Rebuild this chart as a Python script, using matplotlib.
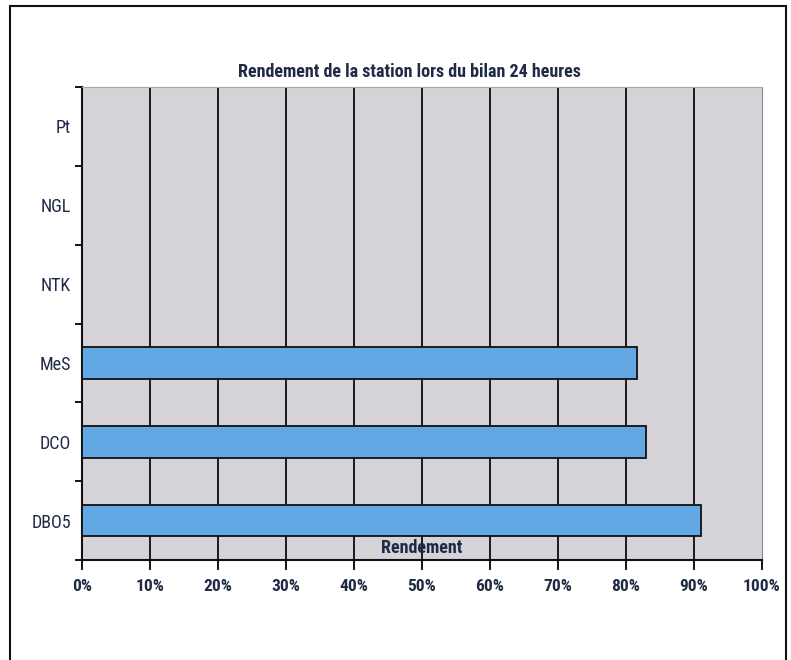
import numpy as np
import matplotlib
matplotlib.use("Agg")
import matplotlib.pyplot as plt
from matplotlib.patches import Rectangle

plt.rcParams['font.family'] = ['Roboto Condensed', 'Asap Condensed', 'Liberation Sans', 'DejaVu Sans']

# données (de bas en haut)
parametres = ['DBO5', 'DCO', 'MeS', 'NTK', 'NGL', 'Pt']
rendement = [91.0, 82.9, 81.6, np.nan, np.nan, np.nan]
x_ticks = [0, 10, 20, 30, 40, 50, 60, 70, 80, 90, 100]
x_labels = ['0%', '10%', '20%', '30%', '40%', '50%', '60%', '70%', '80%', '90%', '100%']

fig = plt.figure(figsize=(7.91, 6.60), dpi=100)
ax = fig.add_axes([82 / 791, 1 - 560 / 660, (762 - 82) / 791, (560 - 87) / 660])
ax.set_facecolor('#D6D3D8')

y = np.arange(len(parametres))
ax.barh(y, rendement, height=0.4, color='#62A8E5', edgecolor='#111111',
        linewidth=1.3, zorder=3)

ax.set_xlim(0, 100)
ax.set_ylim(-0.5, len(parametres) - 0.5)

# grille verticale
for v in x_ticks[1:-1]:
    ax.axvline(v, color='#1a1a1a', linewidth=1.4, zorder=2)

ax.set_xticks(x_ticks)
ax.set_xticklabels(x_labels, fontsize=12.5, fontweight='bold', color='#1F2A44')
ax.tick_params(axis='x', direction='out', length=7, width=1.3, pad=7)

# graduations y aux limites des catégories, étiquettes au centre
ax.set_yticks(np.arange(-0.5, len(parametres), 1.0))
ax.set_yticklabels([])
ax.tick_params(axis='y', which='major', direction='out', length=5, width=1.3)
ax.set_yticks(y, minor=True)
ax.set_yticklabels(parametres, minor=True, fontsize=13, color='#1F2A44')
ax.tick_params(axis='y', which='minor', length=0, pad=8)

for s in ['left', 'bottom']:
    ax.spines[s].set_color('#111111')
    ax.spines[s].set_linewidth(1.5)
ax.spines['right'].set_color('#8a8a8a')
ax.spines['top'].set_color('#a8a8a8')

ax.text(0.5, 0.025, 'Rendement', transform=ax.transAxes, ha='center', va='center',
        fontsize=13, fontweight='bold', color='#1F2A44', zorder=4)

fig.text(409 / 791, 1 - 72 / 660, 'Rendement de la station lors du bilan 24 heures',
         ha='center', va='center', fontsize=13, fontweight='bold', color='#1F2A44')

# cadre du graphique
fig.patches.append(Rectangle((10 / 791, -0.05), (786 - 10) / 791, 1.05 - 6 / 660,
                             transform=fig.transFigure, fill=False,
                             edgecolor='#111111', linewidth=1.5))

fig.savefig('out.png', dpi=100)
